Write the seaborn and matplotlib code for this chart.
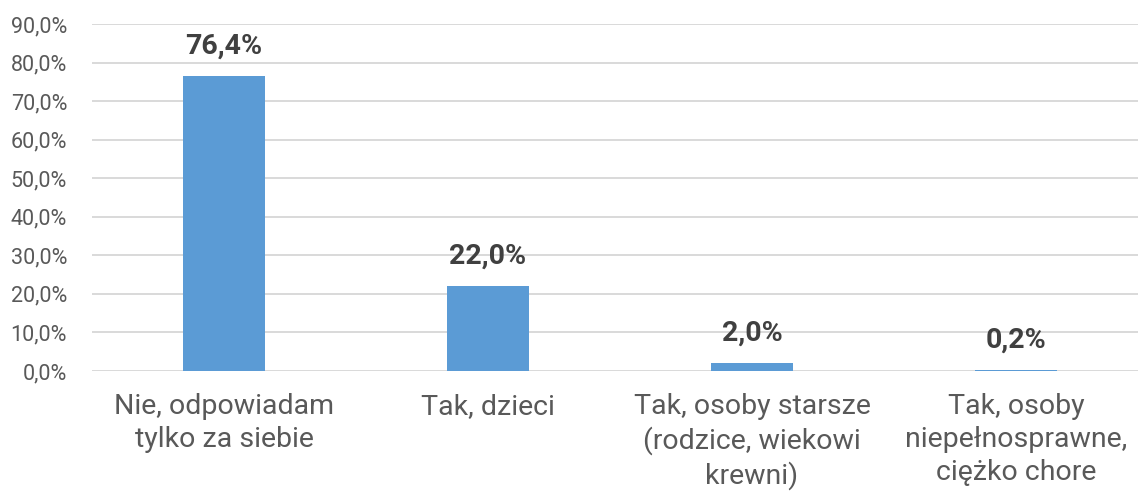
import matplotlib
matplotlib.use("Agg")
import matplotlib.pyplot as plt
import seaborn as sns
import pandas as pd

categories = ["Nie, odpowiadam\ntylko za siebie", "Tak, dzieci",
              "Tak, osoby starsze\n(rodzice, wiekowi\nkrewni)",
              "Tak, osoby\nniepełnosprawne,\nciężko chore"]
values = [76.4, 22.0, 2.0, 0.2]
value_labels = ["76,4%", "22,0%", "2,0%", "0,2%"]
yticks = [0, 10, 20, 30, 40, 50, 60, 70, 80, 90]
ytick_labels = ["0,0%", "10,0%", "20,0%", "30,0%", "40,0%", "50,0%",
                "60,0%", "70,0%", "80,0%", "90,0%"]

sns.set_theme(style="white")
plt.rcParams['font.family'] = ['Roboto', 'DejaVu Sans']

W, H = 1138, 491
fig = plt.figure(figsize=(W / 100, H / 100), dpi=100)
ax = fig.add_axes([92 / W, 120 / H, (W - 92) / W, (371 - 24) / H])

df = pd.DataFrame({"cat": categories, "val": values})
sns.barplot(data=df, x="cat", y="val", color="#5B9BD5", saturation=1,
            width=0.31, ax=ax, zorder=3, linewidth=0)

ax.set_ylim(0, 90)
ax.set_xlim(-0.5, 3.5 - 10 / 264)
ax.set_yticks(yticks)
ax.set_yticklabels(ytick_labels, fontsize=15.5, color="#595959")
ax.tick_params(axis="y", length=0, pad=18)
ax.tick_params(axis="x", length=0, pad=16)
for lbl in ax.get_xticklabels():
    lbl.set_fontsize(20.5)
    lbl.set_color("#595959")
    lbl.set_linespacing(1.27)
ax.set_xlabel("")
ax.set_ylabel("")
ax.grid(axis="y", color="#D9D9D9", linewidth=1.4, zorder=0)
for s in ax.spines.values():
    s.set_visible(False)

for i, (v, t) in enumerate(zip(values, value_labels)):
    ax.annotate(t, (i, v), xytext=(0, 12), textcoords="offset points",
                ha="center", va="bottom", fontsize=20.5, fontweight="bold",
                color="#404040")

fig.savefig("out.png", dpi=100)
